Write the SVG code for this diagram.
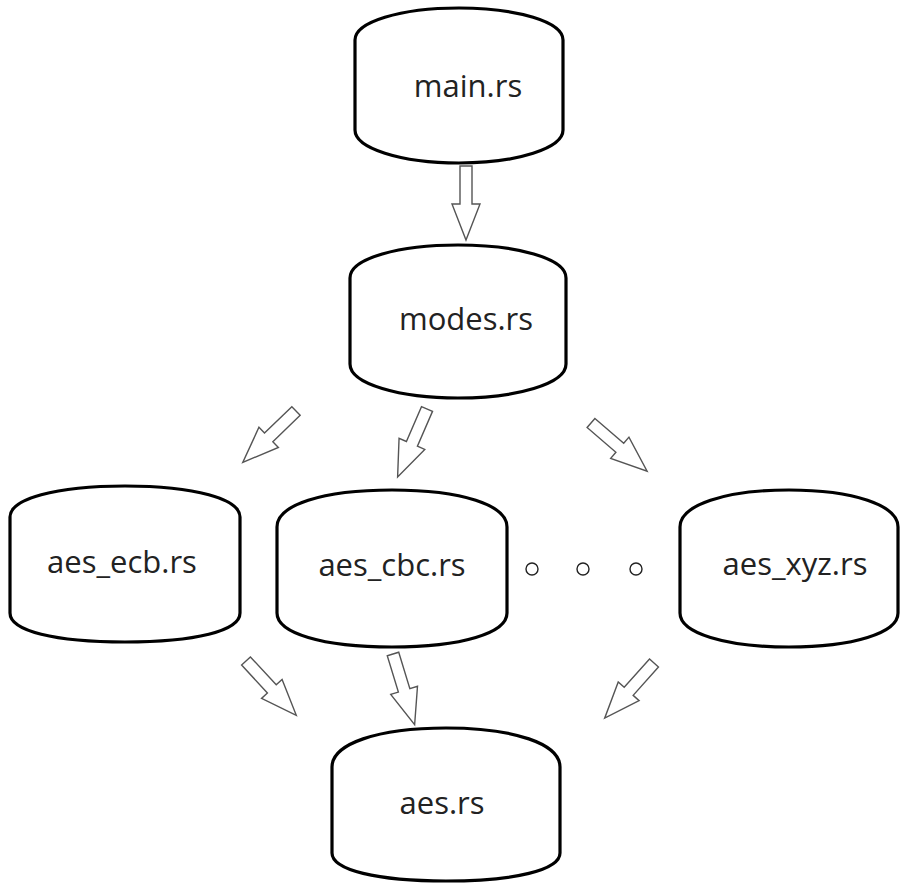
<svg xmlns="http://www.w3.org/2000/svg" width="900" height="883" viewBox="0 0 900 883">
<style>
.node{fill:#fff;stroke:#000;stroke-width:3.2}
.lbl{font-family:"Open Sans","Liberation Sans",sans-serif;font-size:31px;fill:#222;text-anchor:middle}
.arr{fill:#fff;stroke:#555;stroke-width:1.4;stroke-linejoin:miter}
.dot{fill:#fff;stroke:#222;stroke-width:1.4}
</style>
<defs>
<path id="hollowArrow" d="M0,-6 L38,-6 L38,-14 L74,0 L38,14 L38,6 L0,6 Z"/>
</defs>
<rect width="900" height="883" fill="#fff"/>
<g id="main">
<path class="node" d="M355,40 C355,22 400,8 459,8 C518,8 563,22 563,40 L563,130 C563,148 518,163 459,163 C400,163 355,148 355,130 Z"/>
<text class="lbl" x="468" y="97">main.rs</text>
</g>
<g id="modes">
<path class="node" d="M350,278 C350,258 400,245 458,245 C516,245 566,258 566,278 L566,364 C566,384 516,398 458,398 C400,398 350,384 350,364 Z"/>
<text class="lbl" x="466" y="330">modes.rs</text>
</g>
<g id="aes_ecb">
<path class="node" d="M10,517 C10,499 55,486 125,486 C195,486 240,499 240,517 L240,613 C240,631 195,642 125,642 C55,642 10,631 10,613 Z"/>
<text class="lbl" x="122" y="573">aes_ecb.rs</text>
</g>
<g id="aes_cbc">
<path class="node" d="M277,527 C277,505 322,490 392,490 C462,490 507,505 507,527 L507,613 C507,633 462,647 392,647 C322,647 277,633 277,613 Z"/>
<text class="lbl" x="392" y="576">aes_cbc.rs</text>
</g>
<g id="ellipsis">
<circle class="dot" cx="532" cy="569" r="6"/>
<circle class="dot" cx="583" cy="569" r="6"/>
<circle class="dot" cx="636" cy="569" r="6"/>
</g>
<g id="aes_xyz">
<path class="node" d="M680,527 C680,505 725,490 789,490 C853,490 898,505 898,527 L898,613 C898,633 853,647 789,647 C725,647 680,633 680,613 Z"/>
<text class="lbl" x="795" y="575">aes_xyz.rs</text>
</g>
<g id="aes">
<path class="node" d="M332,767 C332,744 377,728 446,728 C515,728 560,744 560,767 L560,853 C560,870 515,881 446,881 C377,881 332,870 332,853 Z"/>
<text class="lbl" x="442" y="814">aes.rs</text>
</g>
<g id="connectors">
<use href="#hollowArrow" class="arr" transform="translate(466,166) rotate(90)"/>
<use href="#hollowArrow" class="arr" transform="translate(296,411) rotate(136)"/>
<use href="#hollowArrow" class="arr" transform="translate(427,409) rotate(113.4)"/>
<use href="#hollowArrow" class="arr" transform="translate(591,423) rotate(40.7)"/>
<use href="#hollowArrow" class="arr" transform="translate(246,661) rotate(47.2)"/>
<use href="#hollowArrow" class="arr" transform="translate(393,654) rotate(73)"/>
<use href="#hollowArrow" class="arr" transform="translate(654,663) rotate(131.8)"/>
</g>
</svg>
